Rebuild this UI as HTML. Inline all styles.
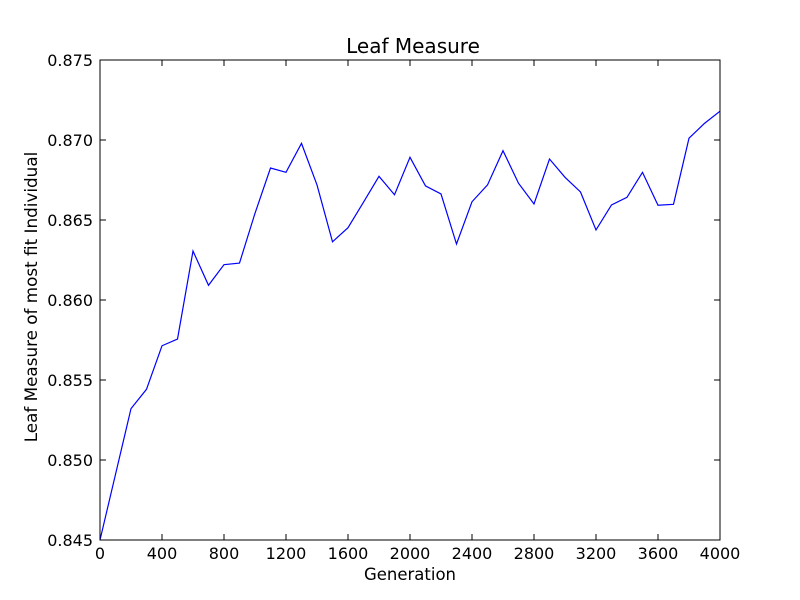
<!DOCTYPE html>
<html><head><meta charset="utf-8"><style>
html,body{margin:0;padding:0;background:#fff;}
svg{display:block;font-family:"DejaVu Sans","Liberation Sans",sans-serif;}
</style></head><body>
<svg id="chart" width="800" height="600" viewBox="0 0 800 600">
<rect x="0" y="0" width="800" height="600" fill="#fff"/>
<text x="413" y="53" font-size="20" text-anchor="middle">Leaf Measure</text>
<text x="410" y="580" font-size="16.5" text-anchor="middle">Generation</text>
<text transform="translate(37,297) rotate(-90)" font-size="16.8" text-anchor="middle">Leaf Measure of most fit Individual</text>
<g id="ticks"></g>
<polyline id="series" fill="none" stroke="#0000ff" stroke-width="1.2"/>
<rect x="100" y="60" width="620" height="480" fill="none" stroke="#000" stroke-width="1"/>
</svg>
<script>
const generations = [0,100,200,300,400,500,600,700,800,900,1000,1100,1200,1300,1400,1500,1600,1700,1800,1900,2000,2100,2200,2300,2400,2500,2600,2700,2800,2900,3000,3100,3200,3300,3400,3500,3600,3700,3800,3900,4000];
const leafMeasure = [0.8450,0.8491,0.85321,0.85442,0.85714,0.85756,0.86306,0.86092,0.86221,0.86231,0.86542,0.86825,0.86798,0.86979,0.86719,0.86364,0.86452,0.86611,0.86773,0.86658,0.86892,0.86713,0.86663,0.8635,0.86614,0.86719,0.86933,0.8673,0.866,0.86881,0.86767,0.86675,0.86438,0.86594,0.86642,0.86798,0.86592,0.86598,0.87011,0.87104,0.8718];
const xTicks = [0,400,800,1200,1600,2000,2400,2800,3200,3600,4000];
const yTicks = [0.845,0.850,0.855,0.860,0.865,0.870,0.875];
const yTickLabels = ["0.845","0.850","0.855","0.860","0.865","0.870","0.875"];

const X0=100,X1=720,Y0=540,Y1=60;
const xMin=0,xMax=4000,yMin=0.845,yMax=0.875;
function xScale(v){return X0+(v-xMin)/(xMax-xMin)*(X1-X0);}
function yScale(v){return Y0-(v-yMin)/(yMax-yMin)*(Y0-Y1);}
const NS="http://www.w3.org/2000/svg";
const g=document.getElementById('ticks');
function line(x1,y1,x2,y2){const l=document.createElementNS(NS,'line');l.setAttribute('x1',x1);l.setAttribute('y1',y1);l.setAttribute('x2',x2);l.setAttribute('y2',y2);l.setAttribute('stroke','#000');l.setAttribute('stroke-width','1');return l;}
xTicks.forEach(t=>{
  const x=xScale(t);
  const a=line(x,Y0,x,Y0-6);
  
  
  g.appendChild(a);
  const b=line(x,Y1,x,Y1+6);
  
  
  g.appendChild(b);
  const tx=document.createElementNS(NS,'text');
  tx.setAttribute('x',x);tx.setAttribute('y',Y0+19);tx.setAttribute('font-size','16');tx.setAttribute('text-anchor','middle');
  tx.textContent=String(t);
  
  
  g.appendChild(tx);
});
yTicks.forEach((t,i)=>{
  const y=yScale(t);
  const a=line(X0,y,X0+6,y);
  
  
  g.appendChild(a);
  const b=line(X1,y,X1-6,y);
  
  
  g.appendChild(b);
  const tx=document.createElementNS(NS,'text');
  tx.setAttribute('x',X0-7);tx.setAttribute('y',y+6);tx.setAttribute('font-size','16');tx.setAttribute('text-anchor','end');
  tx.textContent=yTickLabels[i];
  
  
  g.appendChild(tx);
});
document.getElementById('series').setAttribute('points',generations.map((gv,i)=>xScale(gv).toFixed(2)+','+yScale(leafMeasure[i]).toFixed(2)).join(' '));
</script>
</body></html>
